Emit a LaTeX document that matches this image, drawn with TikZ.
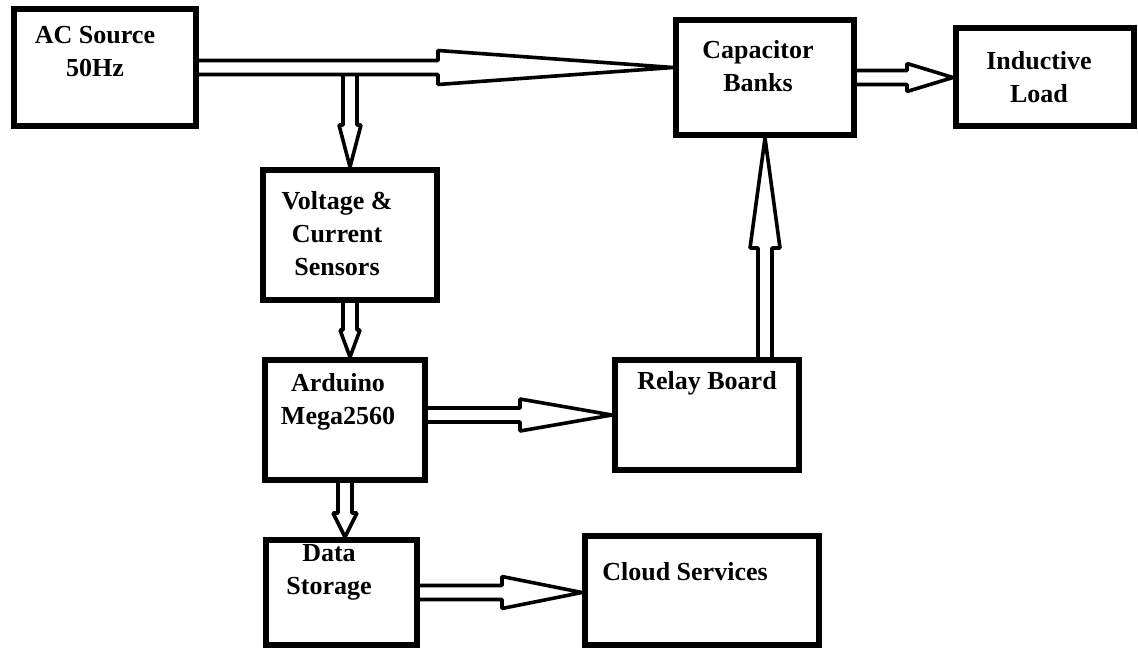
\documentclass[tikz,border=0pt]{standalone}
\usepackage{fontspec}
\setmainfont{Liberation Serif}
\usepackage{tikz}
\usetikzlibrary{calc}

\begin{document}
\begin{tikzpicture}[x=0.5pt, y=-0.5pt,
  box/.style={rectangle, draw=black, line width=3pt, inner sep=0pt},
  txt/.style={font=\fontsize{13}{16.5}\selectfont\bfseries, align=center, inner sep=0pt},
  fatarrow/.style n args={2}{draw=black, line width=1.8pt, line join=bevel, to path={
    let \p1=(\tikztostart), \p2=(\tikztotarget),
        \n1={atan2(\y2-\y1,\x2-\x1)}, \n2={veclen(\x2-\x1,\y2-\y1)} in
    [shift={(\p1)}, rotate=\n1]
    (0pt,-3.5pt) -- ({\n2*1pt-#1},-3.5pt) -- ({\n2*1pt-#1},-#2) -- ({\n2*1pt},0pt)
    -- ({\n2*1pt-#1},#2) -- ({\n2*1pt-#1},3.5pt) -- (0pt,3.5pt)}}
]
\useasboundingbox (0,0) rectangle (1138,651);

% Blocks
\node[box, minimum width=91pt, minimum height=58.5pt] (ac) at (105,67.5) {};
\node[box, minimum width=89pt, minimum height=57.5pt] (cap) at (765,77.5) {};
\node[box, minimum width=89pt, minimum height=49pt] (ind) at (1045,77) {};
\node[box, minimum width=87pt, minimum height=65pt] (volt) at (350,235) {};
\node[box, minimum width=80pt, minimum height=60pt] (ard) at (345,420) {};
\node[box, minimum width=92pt, minimum height=55pt] (relay) at (707,415) {};
\node[box, minimum width=75.5pt, minimum height=52.5pt] (data) at (341.5,592.5) {};
\node[box, minimum width=117pt, minimum height=54.5pt] (cloud) at (702,590.5) {};

% Labels
\node[txt] (acl) at (95,52) {AC Source\\50Hz};
\node[txt] (capl) at (758,66) {Capacitor\\Banks};
\node[txt] (indl) at (1039,77) {Inductive\\Load};
\node[txt] (voltl) at (337,234) {Voltage \&\\Current\\Sensors};
\node[txt] (ardl) at (338,402) {Arduino\\Mega2560};
\node[txt] (relayl) at (707,383) {Relay Board};
\node[txt] (datal) at (329,572) {Data\\Storage};
\node[txt] (cloudl) at (685,572) {Cloud Services};

% Connections
\coordinate (tap) at ($(volt.north |- ac.east)+(0pt,-3.5pt)$);
\draw[fatarrow={117.5pt}{8.5pt}] (ac.east) to (cap.west |- ac.east);
\draw[fatarrow={21pt}{5.5pt}] (tap) to (volt.north);
\draw[fatarrow={13.5pt}{5pt}] (volt.south) to (volt.south |- ard.north);
\draw[fatarrow={46pt}{8pt}] (ard.east |- relay.west) to (relay.west);
\draw[fatarrow={12pt}{6pt}] (ard.south) to (ard.south |- data.north);
\draw[fatarrow={40pt}{8pt}] (data.east) to (cloud.west |- data.east);
\draw[fatarrow={55pt}{7.5pt}] (relay.north -| cap.south) to (cap.south);
\draw[fatarrow={23pt}{7pt}] (cap.east) to (ind.west |- cap.east);

\end{tikzpicture}
\end{document}
